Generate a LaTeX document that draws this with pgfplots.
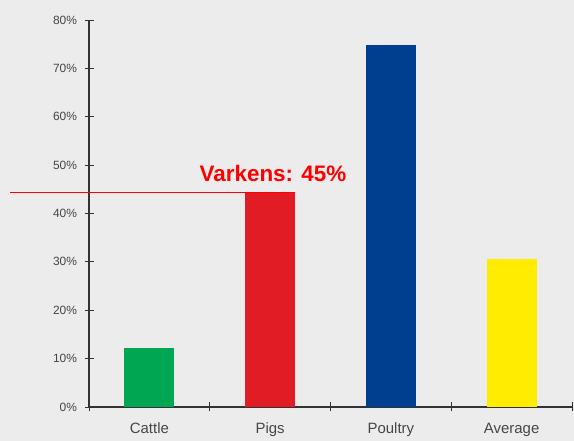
\documentclass[border=0pt]{standalone}
\usepackage{pgfplots}
\pgfplotsset{compat=1.18}
\usepackage{fontspec}
\setmainfont{Liberation Sans}
\definecolor{bg}{RGB}{236,236,236}
\definecolor{cgreen}{RGB}{0,166,81}
\definecolor{cred}{RGB}{226,28,36}
\definecolor{cblue}{RGB}{0,63,143}
\definecolor{cyellow}{RGB}{255,236,0}
\definecolor{axc}{RGB}{50,50,50}
\definecolor{lblc}{RGB}{70,70,70}
\begin{document}
\begin{tikzpicture}
\path[use as bounding box, fill=bg] (0,0) rectangle (574bp,441bp);
\begin{axis}[
  at={(89bp,34bp)}, anchor=south west,
  scale only axis, width=483bp, height=387bp,
  xmin=-0.5, xmax=3.5, ymin=0, ymax=80,
  axis lines*=left, axis line style={axc, line width=1.2pt},
  clip=false,
  xtick={0,1,2,3}, xticklabels={Cattle,Pigs,Poultry,Average},
  major x tick style={draw=none},
  minor xtick={-0.5,0.5,1.5,2.5,3.5},
  minor tick length=9bp, major tick length=9bp,
  tick align=center,
  ytick={0,10,...,80},
  yticklabel={\pgfmathprintnumber{\tick}\%},
  major y tick style={axc, line width=1pt},
  minor x tick style={axc, line width=1pt},
  tick label style={font=\fontsize{12}{14}\selectfont, text=lblc},
  /pgf/number format/assume math mode=true,
  xticklabel style={yshift=-8bp, font=\fontsize{15}{17}\selectfont},
  yticklabel style={xshift=-4bp},
]
\addplot[ybar, bar width=50bp, bar shift=0pt, fill=cgreen, draw=none] coordinates {(0,12.2)};
\addplot[ybar, bar width=50bp, bar shift=0pt, fill=cred, draw=none] coordinates {(1,44.4)};
\addplot[ybar, bar width=50bp, bar shift=0pt, fill=cblue, draw=none] coordinates {(2,74.8)};
\addplot[ybar, bar width=50bp, bar shift=0pt, fill=cyellow, draw=none] coordinates {(3,30.6)};
\addplot[red, line width=1.5pt] coordinates {(-1.154,44.3) (1.206,44.3)};
\node[text=red, font=\bfseries\fontsize{22.5}{26}\selectfont] at (axis cs:1.024,48.3) {Varkens: 45\%};
\end{axis}
\end{tikzpicture}
\end{document}
